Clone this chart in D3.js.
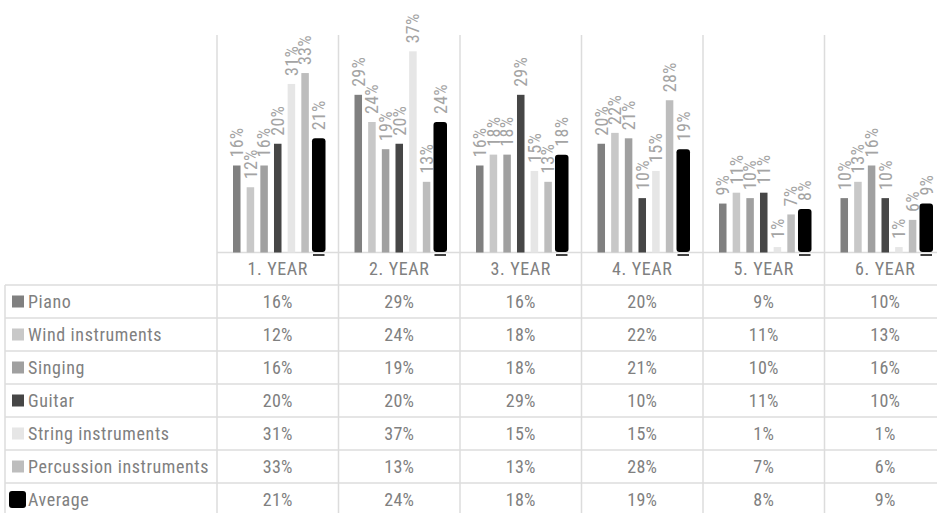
<!DOCTYPE html>
<html>
<head>
<meta charset="utf-8">
<script src="https://cdn.jsdelivr.net/npm/d3@7"></script>
<style>
  body { margin: 0; background: #fff; }
  svg text { font-family: "Roboto Condensed", "Liberation Sans Narrow", "DejaVu Sans Condensed", sans-serif; }
</style>
</head>
<body>
<script>
var years = ['1. YEAR', '2. YEAR', '3. YEAR', '4. YEAR', '5. YEAR', '6. YEAR'];
var series = ['Piano', 'Wind instruments', 'Singing', 'Guitar', 'String instruments', 'Percussion instruments', 'Average'];
var piano      = [0.16, 0.29, 0.16, 0.20, 0.09, 0.10];
var wind       = [0.12, 0.24, 0.18, 0.22, 0.11, 0.13];
var singing    = [0.16, 0.19, 0.18, 0.21, 0.10, 0.16];
var guitar     = [0.20, 0.20, 0.29, 0.10, 0.11, 0.10];
var strings    = [0.31, 0.37, 0.15, 0.15, 0.01, 0.01];
var percussion = [0.33, 0.13, 0.13, 0.28, 0.07, 0.06];
var average    = [0.21, 0.24, 0.18, 0.19, 0.08, 0.09];
var values = [piano, wind, singing, guitar, strings, percussion, average];
var colors = ['#808080', '#c8c8c8', '#a0a0a0', '#464646', '#e6e6e6', '#bdbdbd', '#000000'];

var w = 937;
var h = 513;
var left = 217;
var colW = 121.5;
var base = 252.5;
var plotTop = 35;
var rowH = 33;
var tableTop = 285;
var grid = '#dcdcdc';
var textCol = '#808080';

var svg = d3.select('body').append('svg')
  .attr('width', w)
  .attr('height', h);

var x0 = d3.scaleBand()
  .domain(years)
  .range([left, left + colW * years.length]);

var x1 = d3.scaleBand()
  .domain(series)
  .range([16, 105.5])
  .paddingInner(0.45)
  .paddingOuter(0);

var y = d3.scaleLinear()
  .domain([0, 0.4])
  .range([base, plotTop]);

var fmt = d3.format('.0%');

// vertical grid lines
svg.append('g').selectAll('line')
  .data(d3.range(years.length + 1))
  .join('line')
  .attr('x1', d => left + d * colW)
  .attr('x2', d => left + d * colW)
  .attr('y1', plotTop)
  .attr('y2', h)
  .attr('stroke', grid)
  .attr('stroke-width', 1.5);

// left border of table
svg.append('line')
  .attr('x1', 5).attr('x2', 5)
  .attr('y1', tableTop).attr('y2', h)
  .attr('stroke', grid).attr('stroke-width', 1.5);

// horizontal lines
svg.append('line')
  .attr('x1', left).attr('x2', w)
  .attr('y1', base).attr('y2', base)
  .attr('stroke', grid).attr('stroke-width', 1.5);

svg.append('g').selectAll('line')
  .data(d3.range(series.length))
  .join('line')
  .attr('x1', 5).attr('x2', w)
  .attr('y1', d => tableTop + d * rowH)
  .attr('y2', d => tableTop + d * rowH)
  .attr('stroke', grid)
  .attr('stroke-width', 1.5);

// bars
var groups = svg.append('g').selectAll('g')
  .data(years)
  .join('g')
  .attr('transform', d => `translate(${x0(d)},0)`);

groups.each(function(yr, i) {
  var g = d3.select(this);
  series.forEach(function(s, j) {
    var v = values[j][i];
    var bx = x1(s);
    var bw = x1.bandwidth();
    if (s === 'Average') {
      g.append('rect')
        .attr('x', bx - 3)
        .attr('y', y(v))
        .attr('width', bw + 6)
        .attr('height', base - y(v) - 0.5)
        .attr('rx', 3)
        .attr('fill', colors[j]);
      g.append('line')
        .attr('x1', bx - 2).attr('x2', bx + bw + 2)
        .attr('y1', base + 2.5).attr('y2', base + 2.5)
        .attr('stroke', '#000').attr('stroke-width', 1.5);
    } else {
      g.append('rect')
        .attr('x', bx)
        .attr('y', y(v))
        .attr('width', bw)
        .attr('height', base - y(v))
        .attr('fill', colors[j]);
    }
    g.append('text')
      .attr('transform', `translate(${bx + bw / 2},${y(v) - 8}) rotate(-90)`)
      .attr('dy', '0.35em')
      .attr('font-size', 18)
      .attr('letter-spacing', 0.3)
      .attr('fill', '#a4a4a4')
      .text(fmt(v));
  });
});

// category header
svg.append('g').selectAll('text')
  .data(years)
  .join('text')
  .attr('x', d => x0(d) + colW / 2)
  .attr('y', (base + tableTop) / 2)
  .attr('dy', '0.35em')
  .attr('text-anchor', 'middle')
  .attr('font-size', 18)
  .attr('letter-spacing', 0.6)
  .attr('fill', textCol)
  .text(d => d);

// table rows
var rows = svg.append('g').selectAll('g')
  .data(series)
  .join('g')
  .attr('transform', (d, j) => `translate(0,${tableTop + j * rowH + rowH / 2})`);

rows.append('rect')
  .attr('x', (d, j) => j === 6 ? 9 : 12)
  .attr('y', (d, j) => j === 6 ? -8.5 : -6)
  .attr('width', (d, j) => j === 6 ? 17 : 12)
  .attr('height', (d, j) => j === 6 ? 17 : 12)
  .attr('rx', (d, j) => j === 6 ? 3 : 0)
  .attr('fill', (d, j) => colors[j]);

rows.append('text')
  .attr('x', 28)
  .attr('dy', '0.35em')
  .attr('font-size', 18)
  .attr('letter-spacing', 0.6)
  .attr('fill', textCol)
  .text(d => d);

rows.each(function(s, j) {
  d3.select(this).selectAll('text.val')
    .data(values[j])
    .join('text')
    .attr('class', 'val')
    .attr('x', (d, i) => x0(years[i]) + colW / 2)
    .attr('dy', '0.35em')
    .attr('text-anchor', 'middle')
    .attr('font-size', 18)
    .attr('letter-spacing', 0.3)
    .attr('fill', textCol)
    .text(d => fmt(d));
});
</script>
</body>
</html>
